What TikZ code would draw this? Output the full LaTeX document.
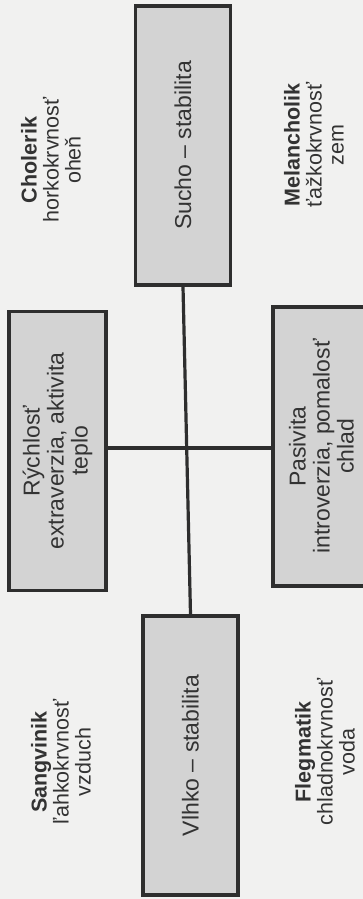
\documentclass[tikz,border=0pt]{standalone}
\usepackage{fontspec}
\setmainfont{Liberation Sans}
\definecolor{bgc}{HTML}{F1F1F0}
\definecolor{boxc}{HTML}{D3D3D3}
\definecolor{linec}{HTML}{2E2E2E}
\definecolor{txtc}{HTML}{333333}
\begin{document}
\begin{tikzpicture}[x=1pt,y=-1pt,
  gbox/.style={draw=linec, fill=boxc, line width=3.2pt, rotate=90, inner sep=0pt,
     minimum width=279pt, align=center, text=txtc, font=\fontsize{23}{24}\selectfont},
  lbl/.style={rotate=90, align=center, text=txtc, inner sep=0pt, font=\fontsize{21.5}{22}\selectfont},
  conn/.style={draw=linec, line width=3.2pt}]
\useasboundingbox (0,0) rectangle (363,899);
\clip (0,0) rectangle (363,899);
\fill[bgc] (0,0) rectangle (363,899);
\node[gbox, minimum height=95pt] (sucho) at (183,145.5) {Sucho – stabilita};
\node[gbox, minimum height=97pt] (rych) at (57.5,451) {Rýchlosť\\extraverzia, aktivita\\teplo};
\node[gbox, minimum height=97pt] (pas) at (321.5,446.5) {Pasivita\\introverzia, pomalosť\\chlad};
\node[gbox, minimum height=95pt] (vlhko) at (190.5,755.5) {Vlhko – stabilita};
\draw[conn] (sucho.west) -- (vlhko.east);
\draw[conn] (rych.south |- 0,448) -- (pas.north |- 0,448);
\node[lbl] (chol) at (51,160) {\textbf{Cholerik}\\horkokrvnosť\\oheň};
\node[lbl] (mel) at (314,145) {\textbf{Melancholik}\\ťažkokrvnosť\\zem};
\node[lbl] (sang) at (61,762) {\textbf{Sangvinik}\\ľahkokrvnosť\\vzduch};
\node[lbl] (fleg) at (325,752) {\textbf{Flegmatik}\\chladnokrvnosť\\voda};
\end{tikzpicture}
\end{document}
